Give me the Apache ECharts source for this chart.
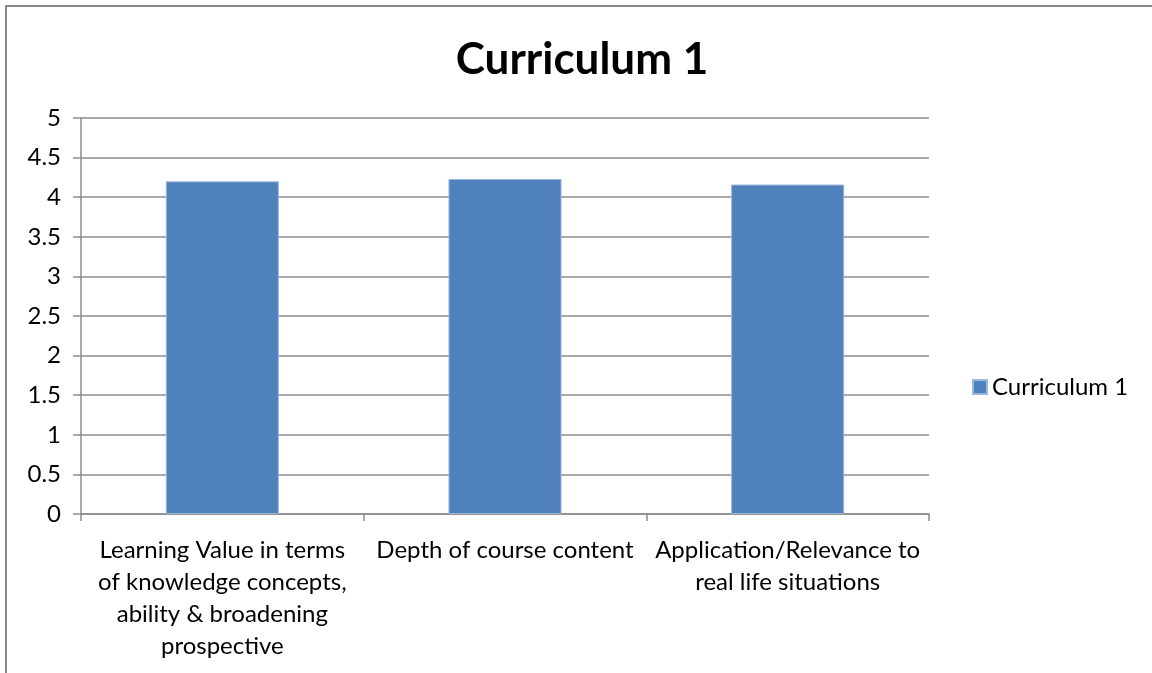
<!DOCTYPE html>
<html>
<head>
<meta charset="utf-8">
<script src="https://cdn.jsdelivr.net/npm/echarts@6/dist/echarts.min.js"></script>
<style>
  html, body { margin: 0; padding: 0; background: #fff; }
  #main { width: 1152px; height: 673px; }
</style>
</head>
<body>
<div id="main"></div>
<script>
// chart data
const categories = [
  'Learning Value in terms\nof knowledge concepts,\nability & broadening\nprospective',
  'Depth of course content',
  'Application/Relevance to\nreal life situations'
];
const seriesName = 'Curriculum 1';
const values = [4.2, 4.23, 4.16];
const yTicks = [0, 0.5, 1, 1.5, 2, 2.5, 3, 3.5, 4, 4.5, 5];

const chart = echarts.init(document.getElementById('main'));
const gray = '#8c8c8c';

chart.setOption({
  animation: false,
  textStyle: { fontFamily: 'Lato, sans-serif' },
  title: {
    text: 'Curriculum 1',
    left: 577,
    textAlign: 'center',
    top: 33,
    textStyle: { fontSize: 44, fontWeight: 'bold', color: '#000', fontFamily: 'Lato, sans-serif' }
  },
  // outer frame of the chart box
  graphic: [{
    type: 'rect',
    shape: { x: 6, y: 6, width: 1200, height: 700 },
    style: { fill: 'none', stroke: '#8a8a8a', lineWidth: 2 },
    silent: true
  }],
  legend: {
    data: [seriesName],
    left: 967,
    top: 370,
    icon: 'rect',
    itemWidth: 14,
    itemHeight: 14,
    itemGap: 7,
    textStyle: { fontSize: 24, color: '#000' }
  },
  grid: { left: 81, right: 223, top: 118, bottom: 159 },
  xAxis: {
    type: 'category',
    data: categories,
    axisLine: { lineStyle: { color: gray, width: 1.5 } },
    axisTick: { show: true, length: 7, alignWithLabel: false, lineStyle: { color: gray, width: 1.5 } },
    axisLabel: {
      interval: 0,
      margin: 20,
      fontSize: 24,
      lineHeight: 32,
      color: '#000',
      align: 'center'
    }
  },
  yAxis: {
    type: 'value',
    min: yTicks[0],
    max: yTicks[yTicks.length - 1],
    interval: 0.5,
    axisLine: { show: true, lineStyle: { color: gray, width: 1.5 } },
    axisTick: { show: true, length: 8, lineStyle: { color: gray, width: 1.5 } },
    splitLine: { lineStyle: { color: gray, width: 1.5 } },
    axisLabel: { fontSize: 24, color: '#000', margin: 20 }
  },
  series: [{
    name: seriesName,
    type: 'bar',
    data: values,
    barCategoryGap: '60%',
    itemStyle: { color: '#4f81bd', borderColor: '#9bb8db', borderWidth: 1 }
  }]
});
</script>
</body>
</html>
